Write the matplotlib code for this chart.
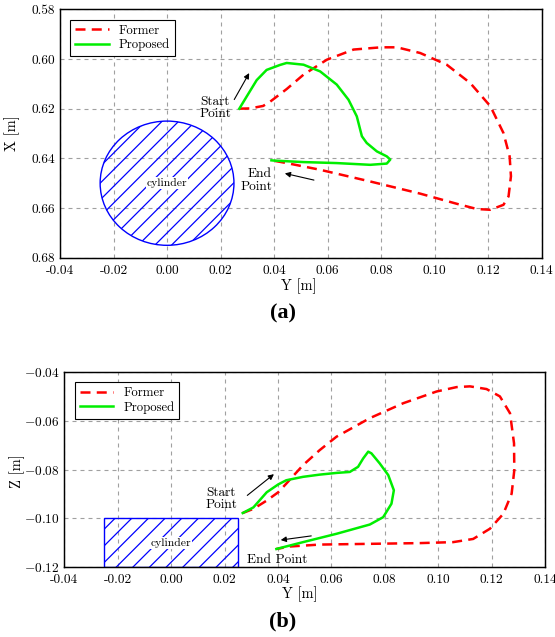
import matplotlib
matplotlib.use('Agg')
import matplotlib.pyplot as plt
from matplotlib.patches import Ellipse, Rectangle

plt.rcParams['font.family'] = 'serif'
plt.rcParams['font.serif'] = ['cmr10']
plt.rcParams['mathtext.fontset'] = 'cm'
plt.rcParams['axes.formatter.use_mathtext'] = True
plt.rcParams['hatch.color'] = 'blue'
plt.rcParams['hatch.linewidth'] = 0.9

# (a) X-Y 平面
xy_former_y = [0.027, 0.031, 0.0359, 0.0385, 0.0447, 0.051, 0.0597, 0.0697, 0.080, 0.0859,
               0.0946, 0.1045, 0.1133, 0.1208, 0.1257, 0.128, 0.1285, 0.1276, 0.1257, 0.1208,
               0.1158, 0.1083, 0.0946, 0.0759, 0.0572, 0.0447, 0.0391]
xy_former_x = [0.6200, 0.6199, 0.6189, 0.6172, 0.6121, 0.6063, 0.6003, 0.5962, 0.5953, 0.5953,
               0.5976, 0.6023, 0.6097, 0.6190, 0.6298, 0.6392, 0.6472, 0.6553, 0.6587, 0.6607,
               0.6604, 0.6583, 0.6542, 0.6493, 0.6446, 0.6419, 0.6408]
xy_prop_y = [0.027, 0.0297, 0.0335, 0.0372, 0.0422, 0.0447, 0.051, 0.0572, 0.0634, 0.0678,
             0.0709, 0.0728, 0.0746, 0.0784, 0.0821, 0.0834, 0.0821, 0.0759, 0.0634, 0.051,
             0.0400, 0.0390]
xy_prop_x = [0.620, 0.6152, 0.6085, 0.6044, 0.6024, 0.6016, 0.6023, 0.6050, 0.6103, 0.6164,
             0.6231, 0.6311, 0.6338, 0.6372, 0.6392, 0.6405, 0.6421, 0.6426, 0.6419, 0.6415,
             0.6409, 0.6408]

# (b) Y-Z 平面
yz_former_y = [0.0268, 0.0308, 0.0358, 0.0401, 0.0431, 0.0494, 0.0556, 0.0619, 0.0744, 0.0869,
               0.0994, 0.1069, 0.1119, 0.1181, 0.1231, 0.1269, 0.1284, 0.1285, 0.1275, 0.1244,
               0.1194, 0.1131, 0.1056, 0.0931, 0.0744, 0.0556, 0.0444, 0.0394]
yz_former_z = [-0.0978, -0.0961, -0.0927, -0.0893, -0.0858, -0.0782, -0.0721, -0.0666, -0.0590,
               -0.0529, -0.0481, -0.0463, -0.0460, -0.0471, -0.0501, -0.0570, -0.0693, -0.0803,
               -0.0899, -0.0981, -0.1042, -0.1084, -0.1097, -0.1101, -0.1104, -0.1107, -0.1115,
               -0.1125]
yz_prop_y = [0.0268, 0.0308, 0.0358, 0.0401, 0.0431, 0.0494, 0.0556, 0.0619, 0.0669, 0.0700,
             0.0719, 0.0738, 0.0750, 0.0781, 0.0813, 0.0834, 0.0825, 0.0794, 0.0744, 0.0619,
             0.0494, 0.0394]
yz_prop_z = [-0.0978, -0.0955, -0.0893, -0.0861, -0.0844, -0.0830, -0.0821, -0.0814, -0.0810,
             -0.0789, -0.0755, -0.0727, -0.0734, -0.0775, -0.0823, -0.0885, -0.0940, -0.0995,
             -0.1025, -0.1063, -0.1097, -0.1125]

y_ticks = [-0.04, -0.02, 0.00, 0.02, 0.04, 0.06, 0.08, 0.10, 0.12, 0.14]
x_ticks = [0.58, 0.60, 0.62, 0.64, 0.66, 0.68]
z_ticks = [-0.12, -0.10, -0.08, -0.06, -0.04]

RED = '#ff0000'
GREEN = '#00ee00'
ARROW = dict(arrowstyle='-|>', color='k', lw=0.8, mutation_scale=8)
CYL_BOX = dict(facecolor='white', edgecolor='none', pad=0.5)

fig = plt.figure(figsize=(5.55, 6.37), dpi=100)
ax1 = fig.add_axes([0.1081, 0.5954, 0.868, 0.39])
ax2 = fig.add_axes([0.1159, 0.1094, 0.8661, 0.3071])


def style(ax):
    ax.grid(True, color='#a0a0a0', linestyle=(0, (3.6, 3.6)), lw=0.8)
    ax.set_axisbelow(True)
    ax.tick_params(length=0, labelsize=9.6)
    ax.tick_params(axis='x', pad=4.8)
    ax.tick_params(axis='y', pad=3.6)
    for s in ax.spines.values():
        s.set_linewidth(1.05)
    ax.set_xticks(y_ticks)
    ax.set_xticklabels(['%.2f' % t for t in y_ticks])
    ax.set_xlim(-0.04, 0.14)
    leg = ax.legend(loc='upper left', fontsize=9.2, fancybox=False, framealpha=1,
                    edgecolor='black', handlelength=2.6, borderaxespad=0.8,
                    borderpad=0.4, labelspacing=0.15)
    leg.get_frame().set_linewidth(0.8)


# (a)
ax1.plot(xy_former_y, xy_former_x, color=RED, lw=1.8, dashes=(4, 2.5), label='Former')
ax1.plot(xy_prop_y, xy_prop_x, color=GREEN, lw=1.8, label='Proposed')
ax1.add_patch(Ellipse((0, 0.65), 0.05, 0.05, facecolor='none', edgecolor='blue',
                      hatch='//', lw=1.0))
ax1.text(0, 0.65, 'cylinder', ha='center', va='center', fontsize=8.4, bbox=CYL_BOX)
ax1.set_yticks(x_ticks)
ax1.set_yticklabels(['%.2f' % t for t in x_ticks])
ax1.set_ylim(0.68, 0.58)
ax1.text(0.0239, 0.6197, 'Start\nPoint', ha='right', va='center', fontsize=9.6,
         multialignment='center', linespacing=1.05)
ax1.annotate('', xy=(0.0312, 0.6047), xytext=(0.0246, 0.6173), arrowprops=ARROW)
ax1.text(0.0392, 0.6489, 'End\nPoint', ha='right', va='center', fontsize=9.6,
         multialignment='right', linespacing=1.05)
ax1.annotate('', xy=(0.043, 0.6458), xytext=(0.0559, 0.649), arrowprops=ARROW)
style(ax1)
ax1.set_xlabel('Y [m]', fontsize=10.4)
ax1.set_ylabel('X [m]', fontsize=10.4)
ax1.xaxis.set_label_coords(0.496, -0.085)
ax1.yaxis.set_label_coords(-0.083, 0.5)

# (b)
ax2.plot(yz_former_y, yz_former_z, color=RED, lw=1.8, dashes=(4, 2.5), label='Former')
ax2.plot(yz_prop_y, yz_prop_z, color=GREEN, lw=1.8, label='Proposed')
ax2.add_patch(Rectangle((-0.025, -0.12), 0.05, 0.02, facecolor='none', edgecolor='blue',
                        hatch='//', lw=1.0))
ax2.text(0, -0.11, 'cylinder', ha='center', va='center', fontsize=8.4, bbox=CYL_BOX)
ax2.set_yticks(z_ticks)
ax2.set_ylim(-0.12, -0.04)
ax2.text(0.0248, -0.092, 'Start\nPoint', ha='right', va='center', fontsize=9.6,
         multialignment='center', linespacing=1.05)
ax2.annotate('', xy=(0.0393, -0.0812), xytext=(0.0277, -0.0913), arrowprops=ARROW)
ax2.text(0.0283, -0.1171, 'End Point', ha='left', va='center', fontsize=9.6)
ax2.annotate('', xy=(0.040, -0.109), xytext=(0.0535, -0.107), arrowprops=ARROW)
style(ax2)
ax2.set_xlabel('Y [m]', fontsize=10.4)
ax2.set_ylabel('Z [m]', fontsize=10.4)
ax2.xaxis.set_label_coords(0.49, -0.1)
ax2.yaxis.set_label_coords(-0.082, 0.49)

fig.text(283 / 555, 1 - 313 / 637, '(a)', ha='center', va='center', fontsize=16,
         family='Liberation Serif', weight='bold')
fig.text(283 / 555, 1 - 621.5 / 637, '(b)', ha='center', va='center', fontsize=16,
         family='Liberation Serif', weight='bold')

fig.savefig('out.png', dpi=100)
